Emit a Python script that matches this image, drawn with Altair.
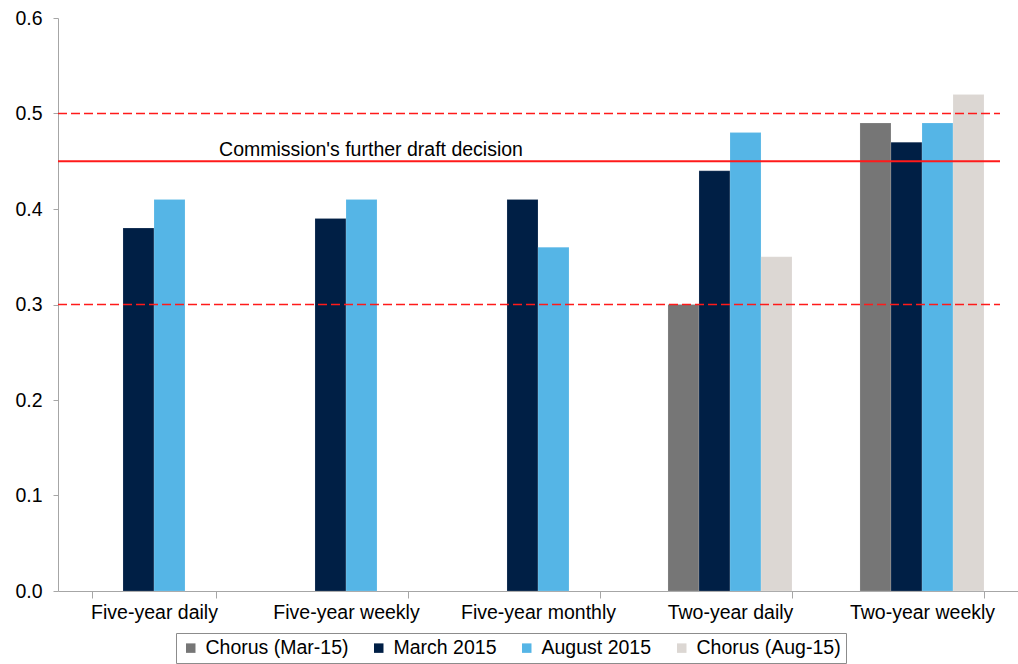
import altair as alt
import pandas as pd

categories = ["Five-year daily", "Five-year weekly", "Five-year monthly", "Two-year daily", "Two-year weekly"]
series = ["Chorus (Mar-15)", "March 2015", "August 2015", "Chorus (Aug-15)"]
colors = ["#767676", "#001f45", "#55b5e6", "#dcd7d3"]
chorus_mar = [None, None, None, 0.30, 0.49]
march_2015 = [0.38, 0.39, 0.41, 0.44, 0.47]
august_2015 = [0.41, 0.41, 0.36, 0.48, 0.49]
chorus_aug = [None, None, None, 0.35, 0.52]

dashed_levels = [0.5, 0.3]
decision_level = [0.45]
decision_label = "Commission's further draft decision"

rows = []
for s, vals in zip(series, [chorus_mar, march_2015, august_2015, chorus_aug]):
    for c, v in zip(categories, vals):
        if v is not None:
            rows.append({"category": c, "series": s, "value": v})
df = pd.DataFrame(rows)

FONT = "Liberation Sans"
FS = 19.5
W, H = 960, 573

yscale = alt.Scale(domain=[0, 0.6], nice=False)

bars = alt.Chart(df).mark_bar(stroke="white", strokeWidth=0.5, strokeOpacity=0.3).encode(
    x=alt.X("category:N", sort=categories, title=None,
            scale=alt.Scale(paddingInner=0.354, paddingOuter=0.177),
            axis=alt.Axis(labelAngle=0, tickBand="extent", tickSize=7, labelPadding=5,
                          labelFontSize=FS, labelFont=FONT, labelColor="black",
                          domainColor="#a6a6a6", tickColor="#a6a6a6")),
    xOffset=alt.XOffset("series:N", sort=series,
                        scale=alt.Scale(domain=series, paddingInner=0, paddingOuter=0)),
    y=alt.Y("value:Q", scale=yscale, title=None,
            axis=alt.Axis(values=[0, 0.1, 0.2, 0.3, 0.4, 0.5, 0.6], format=".1f", grid=False,
                          tickSize=5, labelPadding=11, labelFontSize=FS, labelFont=FONT,
                          labelColor="black", domainColor="#a6a6a6", tickColor="#a6a6a6")),
    color=alt.Color("series:N", sort=series,
                    scale=alt.Scale(domain=series, range=colors),
                    legend=alt.Legend(title=None, orient="none", legendX=118, legendY=615,
                                      direction="horizontal", columns=4, symbolType="square",
                                      symbolSize=90, labelFontSize=FS, labelFont=FONT,
                                      labelColor="black", columnPadding=20, symbolStrokeWidth=0,
                                      labelOffset=5,
                                      strokeColor="#8c8c8c", padding=5, labelLimit=300)),
)

dashed = alt.Chart(pd.DataFrame({"level": dashed_levels})).mark_rule(
    color="#ff1a1a", strokeWidth=1.5, strokeDash=[9, 4]
).encode(y=alt.Y("level:Q", scale=yscale), x=alt.value(0), x2=alt.value(942))

solid = alt.Chart(pd.DataFrame({"level": decision_level})).mark_rule(
    color="#ff1a1a", strokeWidth=2
).encode(y=alt.Y("level:Q", scale=yscale), x=alt.value(0), x2=alt.value(942))

label = alt.Chart(pd.DataFrame({"level": decision_level, "text": [decision_label]})).mark_text(
    align="center", baseline="alphabetic", dy=-5, fontSize=FS, font=FONT, color="black"
).encode(y=alt.Y("level:Q", scale=yscale), x=alt.value(313), text="text:N")

chart = alt.layer(bars, dashed, solid, label).properties(
    width=W, height=H,
    autosize=alt.AutoSizeParams(type="none"),
    padding={"left": 58, "top": 18, "right": 0, "bottom": 73},
).configure_view(stroke=None)

chart.save("out.html", embed_options={"renderer": "svg", "actions": False})
